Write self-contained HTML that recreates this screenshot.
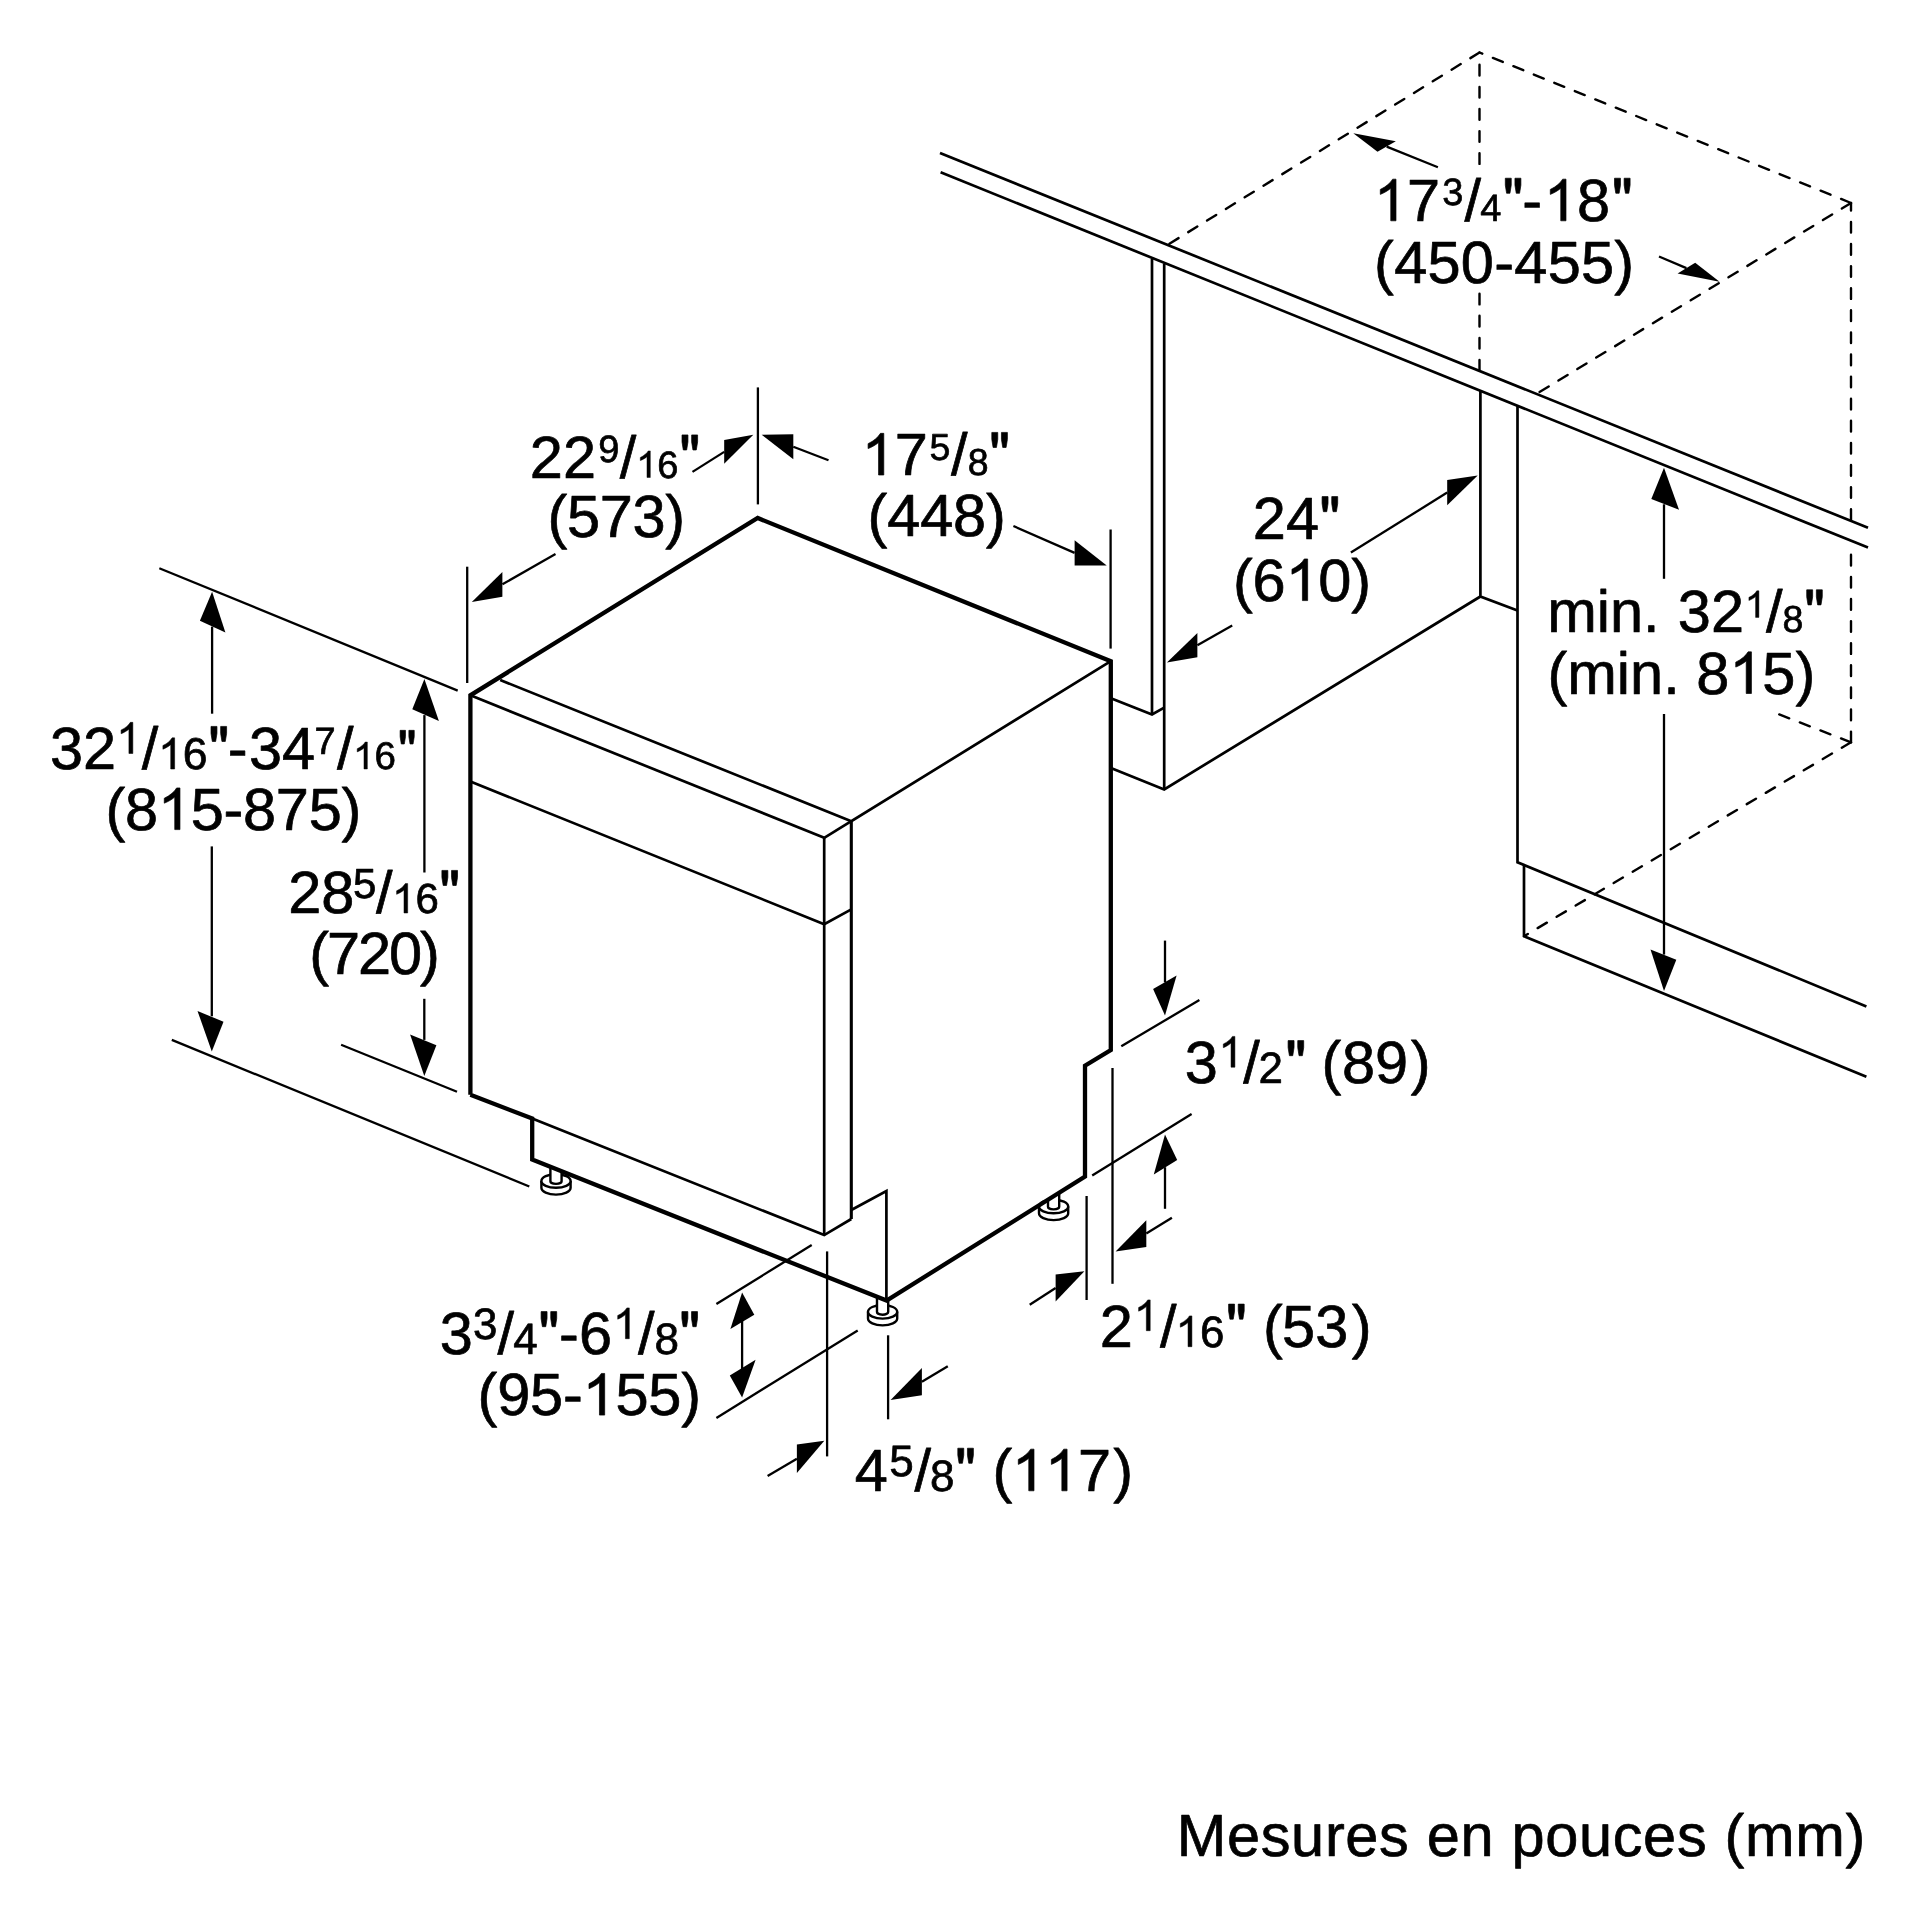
<!DOCTYPE html>
<html><head><meta charset="utf-8"><title>Dimensions</title>
<style>
html,body{margin:0;padding:0;background:#fff;}
body{width:1920px;height:1920px;overflow:hidden;}
svg{display:block;}
svg path, svg ellipse{stroke:#000;fill:none;}
text{font-family:"Liberation Sans",sans-serif;font-size:59.5px;fill:#000;white-space:pre;stroke:#000;stroke-width:0.7px;stroke-linejoin:round;text-rendering:geometricPrecision;}
svg path.ah{fill:#000;stroke:none;}
text .h{fill:none;stroke:none;}
svg path.one{fill:#000;stroke:#000;stroke-width:24;stroke-linejoin:round;}
</style></head>
<body>
<svg width="1920" height="1920" viewBox="0 0 1920 1920">
<rect width="1920" height="1920" fill="#fff"/>
<g>
<path d="M541.4,1181.0 L541.4,1187.8 A14.6,6.8 0 0 0 570.6,1187.8 L570.6,1181.0" stroke-width="2.4"/>
<ellipse cx="556.0" cy="1181.0" rx="14.6" ry="6.8" stroke-width="2.4" style="fill:#fff"/>
<path d="M550.4,1166.9 L550.4,1181.3 A5.6,2.6 0 0 0 561.6,1181.3 L561.6,1171.3" stroke-width="2.4" style="fill:#fff"/>
<path d="M868.0,1311.8 L868.0,1318.6 A14.6,6.8 0 0 0 897.2,1318.6 L897.2,1311.8" stroke-width="2.4"/>
<ellipse cx="882.6" cy="1311.8" rx="14.6" ry="6.8" stroke-width="2.4" style="fill:#fff"/>
<path d="M877.0,1296.8 L877.0,1312.1 A5.6,2.6 0 0 0 888.2,1312.1 L888.2,1299.7" stroke-width="2.4" style="fill:#fff"/>
<path d="M1039.0,1206.5 L1039.0,1213.3 A14.6,6.8 0 0 0 1068.2,1213.3 L1068.2,1206.5" stroke-width="2.4"/>
<ellipse cx="1053.6" cy="1206.5" rx="14.6" ry="6.8" stroke-width="2.4" style="fill:#fff"/>
<path d="M1048.0,1199.7 L1048.0,1206.8 A5.6,2.6 0 0 0 1059.2,1206.8 L1059.2,1192.8" stroke-width="2.4" style="fill:#fff"/>
</g>
<g>
<path d="M940.0,153.0 L1868.0,527.8" stroke-width="2.7" />
<path d="M940.6,172.3 L1868.0,547.6" stroke-width="2.7" />
<path d="M1479.5,52.5 L1169.0,244.0" stroke-width="2.4" stroke-dasharray="10.7 11.4" stroke-linecap="round"/>
<path d="M1851.0,203.0 L1479.5,52.5" stroke-width="2.4" stroke-dasharray="10.7 11.4" stroke-linecap="round"/>
<path d="M1479.5,64.8 L1479.5,165.5" stroke-width="2.4" stroke-dasharray="10.7 11.4" stroke-linecap="round"/>
<path d="M1479.5,293.7 L1479.5,370.0" stroke-width="2.4" stroke-dasharray="10.7 11.4" stroke-linecap="round"/>
<path d="M1851.0,203.0 L1539.5,392.0" stroke-width="2.4" stroke-dasharray="10.7 11.4" stroke-linecap="round"/>
<path d="M1851.0,203.0 L1851.0,520.0" stroke-width="2.4" stroke-dasharray="10.7 11.4" stroke-linecap="round" stroke-dashoffset="3.2"/>
<path d="M1851.0,742.3 L1851.0,549.0" stroke-width="2.4" stroke-dasharray="10.7 11.4" stroke-linecap="round"/>
<path d="M1851.0,742.3 L1779.0,714.3" stroke-width="2.4" stroke-dasharray="10.7 11.4" stroke-linecap="round"/>
<path d="M1851.0,742.3 L1524.0,936.2" stroke-width="2.4" stroke-dasharray="10.7 11.4" stroke-linecap="round"/>
<path d="M1152.0,259.0 L1152.0,714.5" stroke-width="2.7" />
<path d="M1164.2,264.0 L1164.2,789.4" stroke-width="2.7" />
<path d="M1111.5,698.4 L1152.0,714.5 L1164.2,707.6" stroke-width="2.7" />
<path d="M1111.5,768.3 L1164.2,789.4 L1480.4,596.5" stroke-width="2.7" />
<path d="M1480.4,390.0 L1480.4,596.5 L1517.5,610.6" stroke-width="2.7" />
<path d="M1517.5,406.0 L1517.5,862.3 L1866.4,1006.4" stroke-width="2.7" />
<path d="M1524.0,865.0 L1524.0,936.2 L1866.4,1076.8" stroke-width="2.7" />
<path d="M470.4,1094.8 L470.4,695.3 L757.7,518.0 L1110.8,661.2 L1110.8,1050.0 L1085.0,1065.6 L1085.0,1176.6 L886.6,1300.6 L532.2,1159.6 L532.2,1118.6 L470.4,1094.8" stroke-width="4.3" stroke-linejoin="miter"/>
<path d="M470.4,695.3 L824.2,837.8" stroke-width="2.7" />
<path d="M500.2,680.0 L851.3,821.2 L1110.8,661.2" stroke-width="2.7" />
<path d="M824.2,837.8 L851.3,821.2" stroke-width="2.7" />
<path d="M470.4,781.5 L824.2,924.2 L851.3,909.4" stroke-width="2.7" />
<path d="M824.2,837.8 L824.2,1235.1" stroke-width="2.7" />
<path d="M851.3,821.2 L851.3,1219.0" stroke-width="3.1" />
<path d="M532.2,1118.6 L824.2,1235.1 L851.3,1219.0" stroke-width="2.7" />
<path d="M851.3,1210.0 L886.4,1191.0 L886.4,1300.0" stroke-width="2.7" />
<path d="M757.9,387.4 L757.9,504.4" stroke-width="2.3" />
<path d="M467.2,566.7 L467.2,683.0" stroke-width="2.3" />
<path d="M1110.6,529.5 L1110.6,648.6" stroke-width="2.3" />
<path d="M159.3,568.2 L457.7,690.6" stroke-width="2.3" />
<path d="M171.8,1039.9 L529.3,1186.5" stroke-width="2.3" />
<path d="M341.1,1044.8 L457.0,1091.7" stroke-width="2.3" />
<path d="M811.7,1245.1 L716.4,1303.9" stroke-width="2.3" />
<path d="M857.7,1330.4 L716.4,1417.9" stroke-width="2.3" />
<path d="M827.1,1251.4 L827.1,1456.4" stroke-width="2.3" />
<path d="M888.1,1335.3 L888.1,1419.3" stroke-width="2.3" />
<path d="M1121.3,1046.3 L1199.4,1000.0" stroke-width="2.3" />
<path d="M1092.2,1175.6 L1191.6,1114.0" stroke-width="2.3" />
<path d="M1112.5,1068.0 L1112.5,1283.8" stroke-width="2.3" />
<path d="M1086.6,1196.0 L1086.6,1300.0" stroke-width="2.3" />
<path d="M1353.3,133.2 L1395.8,141.3 L1377.5,151.8 Z" class="ah"/>
<path d="M1386.7,146.6 L1437.9,167.3" stroke-width="2.3" />
<path d="M1719.6,281.7 L1677.6,273.6 L1695.2,262.7 Z" class="ah"/>
<path d="M1686.4,268.1 L1659.0,256.5" stroke-width="2.3" />
<path d="M753.3,434.7 L724.2,440.0 L724.2,463.7 Z" class="ah"/>
<path d="M724.2,451.9 L692.5,471.9" stroke-width="2.3" />
<path d="M761.7,434.7 L793.3,434.2 L793.3,459.2 Z" class="ah"/>
<path d="M793.3,446.7 L828.5,460.2" stroke-width="2.3" />
<path d="M471.8,601.9 L502.4,571.9 L502.4,596.8 Z" class="ah"/>
<path d="M502.4,584.3 L555.5,554.0" stroke-width="2.3" />
<path d="M1106.7,565.5 L1074.6,540.3 L1074.6,565.5 Z" class="ah"/>
<path d="M1074.6,552.9 L1013.4,526.0" stroke-width="2.3" />
<path d="M1477.7,475.5 L1447.2,480.0 L1447.2,505.3 Z" class="ah"/>
<path d="M1447.2,492.6 L1350.9,552.5" stroke-width="2.3" />
<path d="M1166.9,662.5 L1197.4,633.1 L1197.4,657.2 Z" class="ah"/>
<path d="M1197.4,645.2 L1232.2,625.6" stroke-width="2.3" />
<path d="M1664.0,467.7 L1651.3,498.9 L1679.0,509.7 Z" class="ah"/>
<path d="M1664.0,504.3 L1664.0,578.8" stroke-width="2.3" />
<path d="M1664.0,991.0 L1650.5,949.5 L1676.3,959.8 Z" class="ah"/>
<path d="M1664.0,954.6 L1664.0,714.0" stroke-width="2.3" />
<path d="M212.1,591.8 L199.9,620.8 L225.4,632.4 Z" class="ah"/>
<path d="M212.1,626.6 L212.1,713.7" stroke-width="2.3" />
<path d="M211.8,1051.6 L197.5,1010.9 L223.5,1021.8 Z" class="ah"/>
<path d="M211.8,1016.3 L211.8,846.4" stroke-width="2.3" />
<path d="M424.4,679.0 L412.3,709.3 L438.9,720.9 Z" class="ah"/>
<path d="M424.4,715.1 L424.4,872.5" stroke-width="2.3" />
<path d="M424.3,1076.0 L410.1,1034.5 L436.4,1045.3 Z" class="ah"/>
<path d="M424.3,1039.9 L424.3,998.8" stroke-width="2.3" />
<path d="M1165.0,1015.6 L1153.1,989.1 L1176.6,975.6 Z" class="ah"/>
<path d="M1165.0,982.4 L1165.0,940.6" stroke-width="2.3" />
<path d="M1165.0,1134.4 L1153.8,1174.4 L1177.2,1160.0 Z" class="ah"/>
<path d="M1165.0,1167.2 L1165.0,1208.8" stroke-width="2.3" />
<path d="M1115.6,1251.6 L1146.3,1220.3 L1146.3,1246.9 Z" class="ah"/>
<path d="M1146.3,1233.6 L1171.9,1217.8" stroke-width="2.3" />
<path d="M1084.4,1271.3 L1055.6,1274.4 L1055.6,1301.6 Z" class="ah"/>
<path d="M1055.6,1288.0 L1029.7,1304.7" stroke-width="2.3" />
<path d="M890.6,1400.0 L921.9,1368.1 L921.9,1395.3 Z" class="ah"/>
<path d="M921.9,1381.7 L947.8,1366.3" stroke-width="2.3" />
<path d="M824.3,1440.8 L796.9,1444.6 L796.9,1473.1 Z" class="ah"/>
<path d="M796.9,1458.8 L767.6,1476.0" stroke-width="2.3" />
<path d="M742.1,1292.5 L730.4,1329.1 L754.3,1314.7 Z" class="ah"/>
<path d="M742.1,1397.5 L729.8,1375.6 L755.6,1359.8 Z" class="ah"/>
<path d="M742.1,1320.0 L742.1,1369.0" stroke-width="2.3" />
</g>
<g style="will-change:transform;opacity:0.999">
<text id="t1"><tspan class="h" x="1373.82" y="220.80">1</tspan><tspan x="1406.91" y="220.80">7</tspan><tspan x="1442.15" y="205.30" font-size="38">3</tspan><tspan x="1464.50" y="220.80">/</tspan><tspan x="1480.23" y="220.80" font-size="38">4</tspan><tspan class="h" x="1502.57" y="220.80">&quot;</tspan><tspan x="1522.36" y="220.80">-</tspan><tspan class="h" x="1543.82" y="220.80">1</tspan><tspan x="1576.91" y="220.80">8</tspan><tspan class="h" x="1611.77" y="220.80">&quot;</tspan></text>
<text id="t2"><tspan x="1374.11" y="282.50">(</tspan><tspan x="1394.18" y="282.50">4</tspan><tspan x="1427.53" y="282.50">5</tspan><tspan x="1460.87" y="282.50">0</tspan><tspan x="1494.22" y="282.50">-</tspan><tspan x="1514.29" y="282.50">4</tspan><tspan x="1547.63" y="282.50">5</tspan><tspan x="1580.98" y="282.50">5</tspan><tspan x="1614.33" y="282.50">)</tspan></text>
<text id="t3"><tspan x="529.81" y="477.50">2</tspan><tspan x="562.90" y="477.50">2</tspan><tspan x="598.22" y="462.00" font-size="38">9</tspan><tspan x="619.80" y="477.50">/</tspan><tspan class="h" x="636.16" y="477.50">1</tspan><tspan x="657.30" y="477.50" font-size="38">6</tspan><tspan class="h" x="679.27" y="477.50">&quot;</tspan></text>
<text id="t4"><tspan x="547.41" y="536.70">(</tspan><tspan x="566.91" y="536.70">5</tspan><tspan x="599.68" y="536.70">7</tspan><tspan x="632.45" y="536.70">3</tspan><tspan x="665.23" y="536.70">)</tspan></text>
<text id="t5"><tspan class="h" x="861.62" y="475.00">1</tspan><tspan x="894.71" y="475.00">7</tspan><tspan x="929.60" y="460.00" font-size="37.5">5</tspan><tspan x="951.10" y="475.00">/</tspan><tspan x="967.87" y="475.00" font-size="37.5">8</tspan><tspan class="h" x="989.07" y="475.00">&quot;</tspan></text>
<text id="t6"><tspan x="867.61" y="536.40">(</tspan><tspan x="887.23" y="536.40">4</tspan><tspan x="920.13" y="536.40">4</tspan><tspan x="953.03" y="536.40">8</tspan><tspan x="985.93" y="536.40">)</tspan></text>
<text id="t7"><tspan x="1252.71" y="539.20">2</tspan><tspan x="1286.03" y="539.20">4</tspan><tspan class="h" x="1319.36" y="539.20">&quot;</tspan></text>
<text id="t8"><tspan x="1233.01" y="600.60">(</tspan><tspan x="1252.61" y="600.60">6</tspan><tspan class="h" x="1285.48" y="600.60">1</tspan><tspan x="1318.35" y="600.60">0</tspan><tspan x="1351.23" y="600.60">)</tspan></text>
<text id="t9"><tspan x="1547.25" y="632.40">m</tspan><tspan x="1596.81" y="632.40">i</tspan><tspan x="1610.03" y="632.40">n</tspan><tspan x="1643.12" y="632.40">.</tspan><tspan x="1659.65" y="632.40"> </tspan><tspan x="1677.83" y="632.40">3</tspan><tspan x="1710.92" y="632.40">2</tspan><tspan class="h" x="1744.76" y="617.40">1</tspan><tspan x="1766.10" y="632.40">/</tspan><tspan x="1782.47" y="632.40" font-size="37.5">8</tspan><tspan class="h" x="1803.97" y="632.40">&quot;</tspan></text>
<text id="t10"><tspan x="1547.51" y="693.50">(</tspan><tspan x="1567.31" y="693.50">m</tspan><tspan x="1616.86" y="693.50">i</tspan><tspan x="1630.07" y="693.50">n</tspan><tspan x="1663.15" y="693.50">.</tspan><tspan x="1679.67" y="693.50"> </tspan><tspan x="1696.19" y="693.50">8</tspan><tspan class="h" x="1729.27" y="693.50">1</tspan><tspan x="1762.35" y="693.50">5</tspan><tspan x="1795.43" y="693.50">)</tspan></text>
<text id="t11"><tspan x="50.03" y="769.00">3</tspan><tspan x="83.12" y="769.00">2</tspan><tspan class="h" x="116.25" y="753.50">1</tspan><tspan x="141.70" y="769.00">/</tspan><tspan class="h" x="158.05" y="769.00">1</tspan><tspan x="182.80" y="769.00" font-size="44.5">6</tspan><tspan class="h" x="208.27" y="769.00">&quot;</tspan><tspan x="227.86" y="769.00">-</tspan><tspan x="248.93" y="769.00">3</tspan><tspan x="282.02" y="769.00">4</tspan><tspan x="314.55" y="753.50" font-size="38">7</tspan><tspan x="337.10" y="769.00">/</tspan><tspan class="h" x="353.01" y="769.00">1</tspan><tspan x="374.42" y="769.00" font-size="38.5">6</tspan><tspan class="h" x="397.62" y="769.00">&quot;</tspan></text>
<text id="t12"><tspan x="105.41" y="829.60">(</tspan><tspan x="124.97" y="829.60">8</tspan><tspan class="h" x="157.80" y="829.60">1</tspan><tspan x="190.63" y="829.60">5</tspan><tspan x="223.47" y="829.60">-</tspan><tspan x="243.02" y="829.60">8</tspan><tspan x="275.86" y="829.60">7</tspan><tspan x="308.69" y="829.60">5</tspan><tspan x="341.53" y="829.60">)</tspan></text>
<text id="t13"><tspan x="288.21" y="913.00">2</tspan><tspan x="321.30" y="913.00">8</tspan><tspan x="353.12" y="898.00" font-size="42">5</tspan><tspan x="376.00" y="913.00">/</tspan><tspan class="h" x="392.03" y="913.00">1</tspan><tspan x="415.39" y="913.00" font-size="42">6</tspan><tspan class="h" x="439.17" y="913.00">&quot;</tspan></text>
<text id="t14"><tspan x="309.31" y="974.00">(</tspan><tspan x="327.03" y="974.00">7</tspan><tspan x="358.03" y="974.00">2</tspan><tspan x="389.03" y="974.00">0</tspan><tspan x="420.03" y="974.00">)</tspan></text>
<text id="t15"><tspan x="1184.63" y="1083.20">3</tspan><tspan class="h" x="1218.51" y="1067.20">1</tspan><tspan x="1243.30" y="1083.20">/</tspan><tspan x="1258.49" y="1083.20" font-size="44">2</tspan><tspan class="h" x="1285.37" y="1083.20">&quot;</tspan><tspan x="1306.49" y="1083.20"> </tspan><tspan x="1321.61" y="1083.20">(</tspan><tspan x="1342.01" y="1083.20">8</tspan><tspan x="1375.11" y="1083.20">9</tspan><tspan x="1410.75" y="1083.20">)</tspan></text>
<text id="t16"><tspan x="1099.81" y="1346.70">2</tspan><tspan class="h" x="1133.81" y="1330.70">1</tspan><tspan x="1160.00" y="1346.70">/</tspan><tspan class="h" x="1175.51" y="1346.70">1</tspan><tspan x="1199.98" y="1346.70" font-size="44">6</tspan><tspan class="h" x="1225.87" y="1346.70">&quot;</tspan><tspan x="1246.99" y="1346.70"> </tspan><tspan x="1262.91" y="1346.70">(</tspan><tspan x="1282.12" y="1346.70">5</tspan><tspan x="1315.21" y="1346.70">3</tspan><tspan x="1351.65" y="1346.70">)</tspan></text>
<text id="t17"><tspan x="439.73" y="1354.20">3</tspan><tspan x="473.12" y="1338.70" font-size="44">3</tspan><tspan x="497.40" y="1354.20">/</tspan><tspan x="513.19" y="1354.20" font-size="44">4</tspan><tspan class="h" x="538.37" y="1354.20">&quot;</tspan><tspan x="558.96" y="1354.20">-</tspan><tspan x="578.98" y="1354.20">6</tspan><tspan class="h" x="612.91" y="1338.70">1</tspan><tspan x="638.10" y="1354.20">/</tspan><tspan x="654.39" y="1354.20" font-size="44">8</tspan><tspan class="h" x="679.17" y="1354.20">&quot;</tspan></text>
<text id="t18"><tspan x="477.61" y="1415.10">(</tspan><tspan x="497.20" y="1415.10">9</tspan><tspan x="530.07" y="1415.10">5</tspan><tspan x="562.93" y="1415.10">-</tspan><tspan class="h" x="582.52" y="1415.10">1</tspan><tspan x="615.39" y="1415.10">5</tspan><tspan x="648.26" y="1415.10">5</tspan><tspan x="681.13" y="1415.10">)</tspan></text>
<text id="t19"><tspan x="854.73" y="1490.80">4</tspan><tspan x="889.34" y="1475.80" font-size="44">5</tspan><tspan x="914.50" y="1490.80">/</tspan><tspan x="930.09" y="1490.80" font-size="44">8</tspan><tspan class="h" x="955.07" y="1490.80">&quot;</tspan><tspan x="976.19" y="1490.80"> </tspan><tspan x="992.41" y="1490.80">(</tspan><tspan class="h" x="1011.82" y="1490.80">1</tspan><tspan class="h" x="1044.91" y="1490.80">1</tspan><tspan x="1078.00" y="1490.80">7</tspan><tspan x="1113.25" y="1490.80">)</tspan></text>
<text id="t20"><tspan x="1176.72" y="1855.50">M</tspan><tspan x="1226.95" y="1855.50">e</tspan><tspan x="1260.71" y="1855.50">s</tspan><tspan x="1291.12" y="1855.50">u</tspan><tspan x="1324.88" y="1855.50">r</tspan><tspan x="1345.36" y="1855.50">e</tspan><tspan x="1379.11" y="1855.50">s</tspan><tspan x="1409.53" y="1855.50"> </tspan><tspan x="1426.72" y="1855.50">e</tspan><tspan x="1460.48" y="1855.50">n</tspan><tspan x="1494.24" y="1855.50"> </tspan><tspan x="1511.43" y="1855.50">p</tspan><tspan x="1545.19" y="1855.50">o</tspan><tspan x="1578.95" y="1855.50">u</tspan><tspan x="1612.70" y="1855.50">c</tspan><tspan x="1643.12" y="1855.50">e</tspan><tspan x="1676.88" y="1855.50">s</tspan><tspan x="1707.29" y="1855.50"> </tspan><tspan x="1724.49" y="1855.50">(</tspan><tspan x="1744.97" y="1855.50">m</tspan><tspan x="1795.20" y="1855.50">m</tspan><tspan x="1845.43" y="1855.50">)</tspan></text>
<path class="one" transform="translate(1373.82,220.80) scale(0.02905,0.02841)" d="M763,0H583V-1147Q518,-1085 412.5,-1023T223,-930V-1104Q374,-1175 487,-1276T647,-1466H763Z"/>
<path class="one" transform="translate(1502.57,220.80) scale(0.02905)" d="M94,-1466H299V-1226L254,-947H139L94,-1226ZM426,-1466H631V-1226L586,-947H471L426,-1226Z"/>
<path class="one" transform="translate(1543.82,220.80) scale(0.02905,0.02841)" d="M763,0H583V-1147Q518,-1085 412.5,-1023T223,-930V-1104Q374,-1175 487,-1276T647,-1466H763Z"/>
<path class="one" transform="translate(1611.77,220.80) scale(0.02905)" d="M94,-1466H299V-1226L254,-947H139L94,-1226ZM426,-1466H631V-1226L586,-947H471L426,-1226Z"/>
<path class="one" transform="translate(636.16,477.50) scale(0.01855,0.01815)" d="M763,0H583V-1147Q518,-1085 412.5,-1023T223,-930V-1104Q374,-1175 487,-1276T647,-1466H763Z"/>
<path class="one" transform="translate(679.27,477.50) scale(0.02905)" d="M94,-1466H299V-1226L254,-947H139L94,-1226ZM426,-1466H631V-1226L586,-947H471L426,-1226Z"/>
<path class="one" transform="translate(861.62,475.00) scale(0.02905,0.02841)" d="M763,0H583V-1147Q518,-1085 412.5,-1023T223,-930V-1104Q374,-1175 487,-1276T647,-1466H763Z"/>
<path class="one" transform="translate(989.07,475.00) scale(0.02905)" d="M94,-1466H299V-1226L254,-947H139L94,-1226ZM426,-1466H631V-1226L586,-947H471L426,-1226Z"/>
<path class="one" transform="translate(1319.36,539.20) scale(0.02905)" d="M94,-1466H299V-1226L254,-947H139L94,-1226ZM426,-1466H631V-1226L586,-947H471L426,-1226Z"/>
<path class="one" transform="translate(1285.48,600.60) scale(0.02905,0.02841)" d="M763,0H583V-1147Q518,-1085 412.5,-1023T223,-930V-1104Q374,-1175 487,-1276T647,-1466H763Z"/>
<path class="one" transform="translate(1744.76,617.40) scale(0.01855,0.01815)" d="M763,0H583V-1147Q518,-1085 412.5,-1023T223,-930V-1104Q374,-1175 487,-1276T647,-1466H763Z"/>
<path class="one" transform="translate(1803.97,632.40) scale(0.02905)" d="M94,-1466H299V-1226L254,-947H139L94,-1226ZM426,-1466H631V-1226L586,-947H471L426,-1226Z"/>
<path class="one" transform="translate(1729.27,693.50) scale(0.02905,0.02841)" d="M763,0H583V-1147Q518,-1085 412.5,-1023T223,-930V-1104Q374,-1175 487,-1276T647,-1466H763Z"/>
<path class="one" transform="translate(116.25,753.50) scale(0.02173,0.02125)" d="M763,0H583V-1147Q518,-1085 412.5,-1023T223,-930V-1104Q374,-1175 487,-1276T647,-1466H763Z"/>
<path class="one" transform="translate(158.05,769.00) scale(0.02173,0.02125)" d="M763,0H583V-1147Q518,-1085 412.5,-1023T223,-930V-1104Q374,-1175 487,-1276T647,-1466H763Z"/>
<path class="one" transform="translate(208.27,769.00) scale(0.02905)" d="M94,-1466H299V-1226L254,-947H139L94,-1226ZM426,-1466H631V-1226L586,-947H471L426,-1226Z"/>
<path class="one" transform="translate(353.01,769.00) scale(0.01880,0.01839)" d="M763,0H583V-1147Q518,-1085 412.5,-1023T223,-930V-1104Q374,-1175 487,-1276T647,-1466H763Z"/>
<path class="one" transform="translate(397.62,769.00) scale(0.02637)" d="M94,-1466H299V-1226L254,-947H139L94,-1226ZM426,-1466H631V-1226L586,-947H471L426,-1226Z"/>
<path class="one" transform="translate(157.80,829.60) scale(0.02905,0.02841)" d="M763,0H583V-1147Q518,-1085 412.5,-1023T223,-930V-1104Q374,-1175 487,-1276T647,-1466H763Z"/>
<path class="one" transform="translate(392.03,913.00) scale(0.02051,0.02006)" d="M763,0H583V-1147Q518,-1085 412.5,-1023T223,-930V-1104Q374,-1175 487,-1276T647,-1466H763Z"/>
<path class="one" transform="translate(439.17,913.00) scale(0.02905)" d="M94,-1466H299V-1226L254,-947H139L94,-1226ZM426,-1466H631V-1226L586,-947H471L426,-1226Z"/>
<path class="one" transform="translate(1218.51,1067.20) scale(0.02148,0.02101)" d="M763,0H583V-1147Q518,-1085 412.5,-1023T223,-930V-1104Q374,-1175 487,-1276T647,-1466H763Z"/>
<path class="one" transform="translate(1285.37,1083.20) scale(0.02905)" d="M94,-1466H299V-1226L254,-947H139L94,-1226ZM426,-1466H631V-1226L586,-947H471L426,-1226Z"/>
<path class="one" transform="translate(1133.81,1330.70) scale(0.02148,0.02101)" d="M763,0H583V-1147Q518,-1085 412.5,-1023T223,-930V-1104Q374,-1175 487,-1276T647,-1466H763Z"/>
<path class="one" transform="translate(1175.51,1346.70) scale(0.02148,0.02101)" d="M763,0H583V-1147Q518,-1085 412.5,-1023T223,-930V-1104Q374,-1175 487,-1276T647,-1466H763Z"/>
<path class="one" transform="translate(1225.87,1346.70) scale(0.02905)" d="M94,-1466H299V-1226L254,-947H139L94,-1226ZM426,-1466H631V-1226L586,-947H471L426,-1226Z"/>
<path class="one" transform="translate(538.37,1354.20) scale(0.02905)" d="M94,-1466H299V-1226L254,-947H139L94,-1226ZM426,-1466H631V-1226L586,-947H471L426,-1226Z"/>
<path class="one" transform="translate(612.91,1338.70) scale(0.02148,0.02101)" d="M763,0H583V-1147Q518,-1085 412.5,-1023T223,-930V-1104Q374,-1175 487,-1276T647,-1466H763Z"/>
<path class="one" transform="translate(679.17,1354.20) scale(0.02905)" d="M94,-1466H299V-1226L254,-947H139L94,-1226ZM426,-1466H631V-1226L586,-947H471L426,-1226Z"/>
<path class="one" transform="translate(582.52,1415.10) scale(0.02905,0.02841)" d="M763,0H583V-1147Q518,-1085 412.5,-1023T223,-930V-1104Q374,-1175 487,-1276T647,-1466H763Z"/>
<path class="one" transform="translate(955.07,1490.80) scale(0.02905)" d="M94,-1466H299V-1226L254,-947H139L94,-1226ZM426,-1466H631V-1226L586,-947H471L426,-1226Z"/>
<path class="one" transform="translate(1011.82,1490.80) scale(0.02905,0.02841)" d="M763,0H583V-1147Q518,-1085 412.5,-1023T223,-930V-1104Q374,-1175 487,-1276T647,-1466H763Z"/>
<path class="one" transform="translate(1044.91,1490.80) scale(0.02905,0.02841)" d="M763,0H583V-1147Q518,-1085 412.5,-1023T223,-930V-1104Q374,-1175 487,-1276T647,-1466H763Z"/>
</g>
</svg>
</body></html>
